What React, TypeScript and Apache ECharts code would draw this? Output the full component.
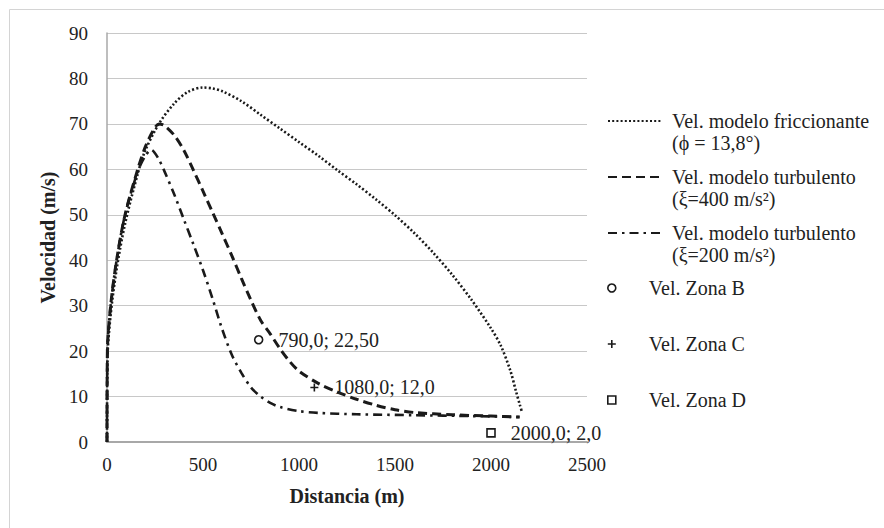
import React, { useEffect, useRef } from 'react';
import * as echarts from 'echarts';

// Vel. modelo friccionante (ϕ = 13,8°)
const friccionanteX = [0, 2, 19, 50, 94, 160, 198, 270, 350, 420, 500, 550, 600, 700, 800, 900, 1000, 1100, 1200, 1300, 1400, 1500, 1600, 1700, 1800, 1900, 2000, 2050, 2100, 2130, 2150, 2162];
const friccionanteY = [0, 18, 28, 38, 48, 59, 64, 70, 74.5, 77, 78, 77.8, 77.2, 75, 72, 69, 66, 63, 59.8, 56.7, 53.4, 49.9, 46, 41.6, 36.7, 31.2, 25, 21.3, 15.8, 11.2, 8.2, 6.5];

// Vel. modelo turbulento (ξ=400 m/s²)
const turb400X = [0, 2, 19, 50, 94, 160, 200, 240, 270, 300, 350, 400, 450, 500, 550, 600, 650, 700, 750, 800, 850, 900, 950, 1000, 1100, 1200, 1300, 1400, 1500, 1600, 1800, 2000, 2150];
const turb400Y = [0, 20, 30, 40, 50, 60, 65, 68.5, 70, 69.6, 67.5, 64.2, 59.8, 55.2, 50.5, 45.8, 41, 36, 31.2, 26.8, 23.8, 20.6, 17.8, 15.6, 12.9, 11, 9.4, 8.1, 7.1, 6.5, 6, 5.7, 5.5];

// Vel. modelo turbulento (ξ=200 m/s²)
const turb200X = [0, 2, 19, 50, 94, 160, 200, 230, 266, 300, 350, 400, 450, 500, 550, 600, 650, 700, 750, 800, 850, 900, 1000, 1100, 1300, 1600, 1900, 2150];
const turb200Y = [0, 20, 30, 40, 50, 59.5, 63, 64.3, 62.5, 59.5, 54.5, 49, 43.5, 37.8, 31.5, 24.8, 19.2, 15.2, 12, 10, 8.6, 7.7, 6.8, 6.4, 6.1, 5.9, 5.7, 5.5];

// Zonas B, C, D
const zonaNames = ['Vel. Zona B', 'Vel. Zona C', 'Vel. Zona D'];
const zonaX = [790, 1080, 2000];
const zonaY = [22.5, 12, 2];
const zonaLabels = ['790,0; 22,50', '1080,0; 12,0', '2000,0; 2,0'];

const lineNames = [
  'Vel. modelo friccionante (ϕ = 13,8°)',
  'Vel. modelo turbulento (ξ=400 m/s²)',
  'Vel. modelo turbulento (ξ=200 m/s²)',
];
const lineLegendLines = [
  ['Vel. modelo friccionante', '(ϕ = 13,8°)'],
  ['Vel. modelo turbulento', '(ξ=400 m/s²)'],
  ['Vel. modelo turbulento', '(ξ=200 m/s²)'],
];

const xMin = 0, xMax = 2500, xStep = 500;
const yMin = 0, yMax = 90, yStep = 10;

const FONT = '"Liberation Serif", "Times New Roman", serif';
const INK = '#1a1a1a';
const TEXT = '#222';

const pairs = (xs: number[], ys: number[]) => xs.map((x, i) => [x, ys[i]]);

export default function App() {
  const ref = useRef<HTMLDivElement>(null);
  useEffect(() => {
    if (!ref.current) return;
    const chart = echarts.init(ref.current, undefined, { renderer: 'svg' });

    const lineData = [
      pairs(friccionanteX, friccionanteY),
      pairs(turb400X, turb400Y),
      pairs(turb200X, turb200Y),
    ];
    const lineTypes: any[] = [[2, 2.2], [9, 5], [9, 5, 2.5, 5]];
    const lineWidths = [2.6, 3, 2.6];

    const plusPath = 'path://M4,0L4,8M0,4L8,4';
    const squarePath = 'path://M0,0L8,0L8,8L0,8Z';
    const zonaSymbols = ['circle', plusPath, squarePath];
    const zonaFill = ['#fff', INK, '#fff'];

    const lineSeries = lineNames.map((name, i) => ({
      name,
      type: 'line',
      data: lineData[i],
      symbol: 'none',
      showSymbol: false,
      smooth: 0.3,
      lineStyle: { color: INK, width: lineWidths[i], type: lineTypes[i], cap: 'butt' },
      itemStyle: { color: INK },
      z: 3,
    }));

    const scatterSeries = zonaNames.map((name, i) => ({
      name,
      type: 'scatter',
      data: [[zonaX[i], zonaY[i]]],
      symbol: zonaSymbols[i],
      symbolSize: 8,
      itemStyle: { color: zonaFill[i], borderColor: INK, borderWidth: 1.6, opacity: 1 },
      label: {
        show: true,
        position: 'right',
        distance: 15,
        formatter: () => zonaLabels[i],
        fontFamily: FONT,
        fontSize: 20,
        color: TEXT,
      },
      z: 4,
    }));

    const lineIconCenters = [121, 177, 233];
    const zonaIconCenters = [288, 344, 400];

    const legends: any[] = [];
    lineNames.forEach((name, i) => {
      legends.push({
        data: [name],
        orient: 'vertical',
        left: 607,
        top: lineIconCenters[i] - 33,
        padding: 0,
        itemWidth: 54,
        itemHeight: 14,
        selectedMode: false,
        itemStyle: { opacity: 0 },
        formatter: () => ' \n' + lineLegendLines[i].join('\n'),
        textStyle: { fontFamily: FONT, fontSize: 20, color: TEXT, lineHeight: 22, padding: [0, 0, 0, 5] },
      });
    });
    zonaNames.forEach((name, i) => {
      legends.push({
        data: [name],
        orient: 'vertical',
        left: 607,
        top: zonaIconCenters[i] - 11,
        padding: 0,
        itemWidth: 54,
        itemHeight: 8,
        selectedMode: false,
        itemStyle: { color: zonaFill[i], borderColor: INK, borderWidth: 1.6 },
        textStyle: { fontFamily: FONT, fontSize: 20, color: TEXT, lineHeight: 22, padding: [0, 0, 0, 5] },
      });
    });

    chart.setOption({
      animation: false,
      backgroundColor: '#fff',
      textStyle: { fontFamily: FONT },
      grid: { left: 107, right: 297, top: 33, bottom: 86, containLabel: false },
      xAxis: {
        type: 'value',
        min: xMin,
        max: xMax,
        interval: xStep,
        name: 'Distancia (m)',
        nameLocation: 'middle',
        nameGap: 44,
        nameTextStyle: { fontFamily: FONT, fontSize: 20, fontWeight: 'bold', color: TEXT },
        axisLine: { show: true, lineStyle: { color: '#a8a8a8', width: 2 } },
        axisTick: { show: false },
        axisLabel: { fontFamily: FONT, fontSize: 19, color: TEXT, margin: 13, formatter: (v: number) => String(v) },
        splitLine: { show: false },
      },
      yAxis: {
        type: 'value',
        min: yMin,
        max: yMax,
        interval: yStep,
        name: 'Velocidad (m/s)',
        nameLocation: 'middle',
        nameGap: 47,
        nameRotate: 90,
        nameTextStyle: { fontFamily: FONT, fontSize: 20, fontWeight: 'bold', color: TEXT },
        axisLine: { show: true, lineStyle: { color: '#a8a8a8', width: 1.5 } },
        axisTick: { show: false },
        axisLabel: { fontFamily: FONT, fontSize: 19, color: TEXT, margin: 19, formatter: (v: number) => String(v) },
        splitLine: { show: true, lineStyle: { color: '#c8c8c8', width: 1 } },
      },
      legend: legends,
      graphic: [
        {
          type: 'rect',
          shape: { x: 9.5, y: 9.5, width: 1000, height: 1000 },
          style: { fill: 'none', stroke: '#d4d4d4', lineWidth: 1 },
          silent: true,
        },
      ],
      series: [...lineSeries, ...scatterSeries],
    });
    return () => chart.dispose();
  }, []);
  return (
    <div
      ref={ref}
      style={{ position: 'fixed', left: 0, top: 0, width: 884, height: 528 }}
    />
  );
}
